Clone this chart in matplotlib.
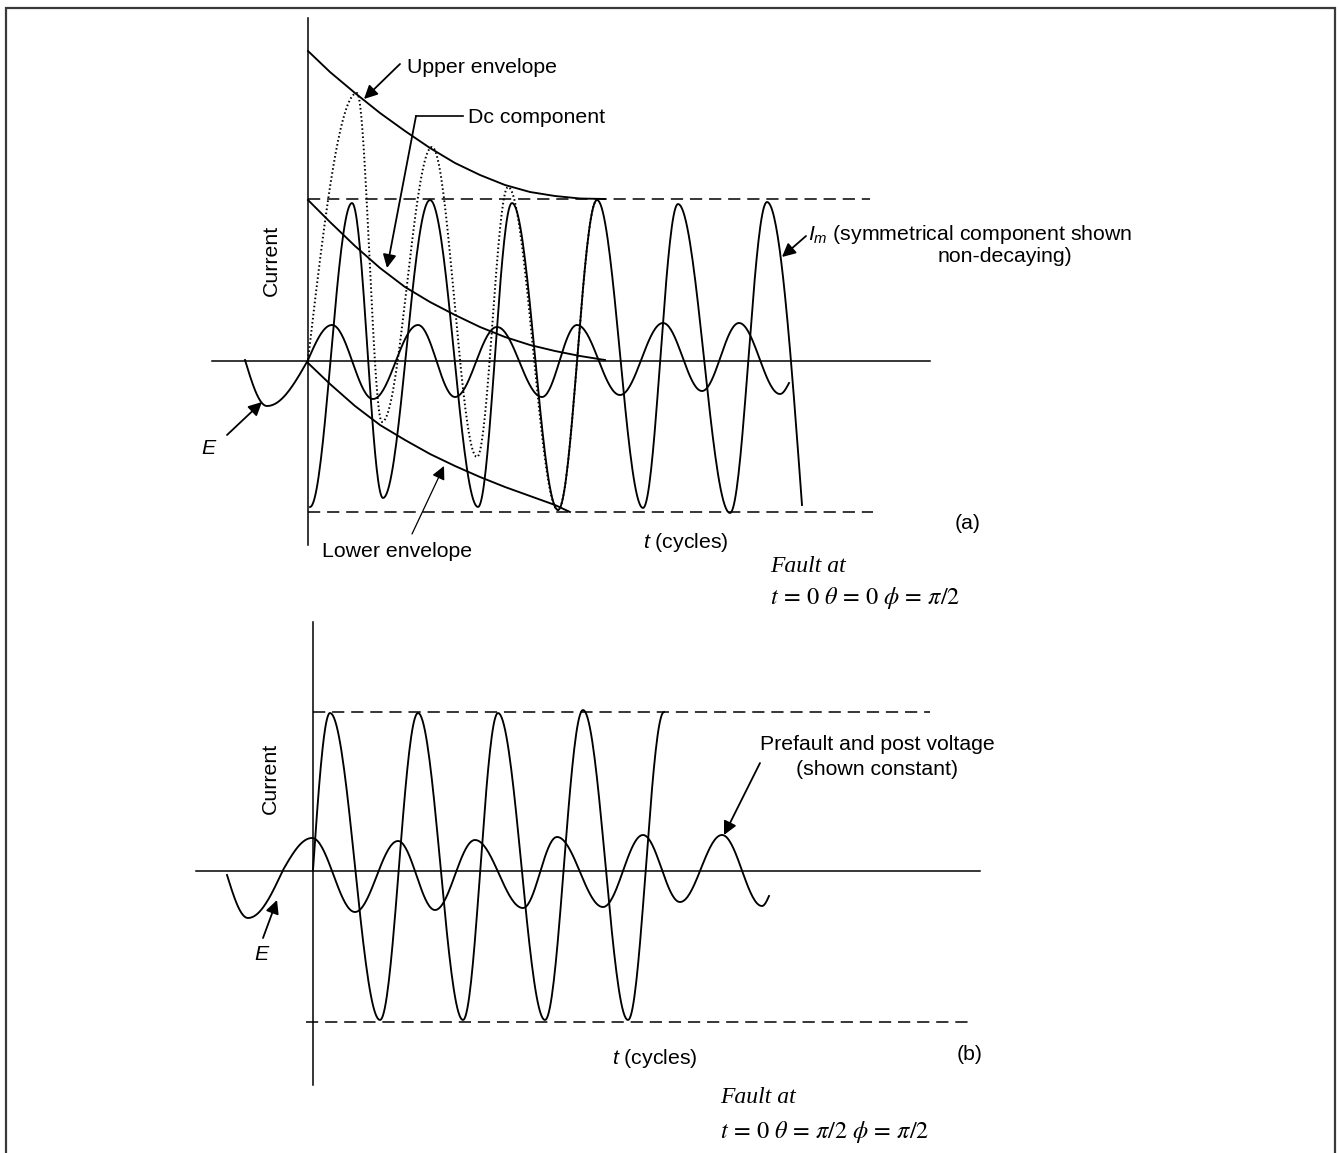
import numpy as np
import matplotlib
matplotlib.use("Agg")
import matplotlib.pyplot as plt

plt.rcParams["font.family"] = ["Liberation Sans", "DejaVu Sans"]
plt.rcParams["mathtext.fontset"] = "custom"
plt.rcParams["mathtext.it"] = "Liberation Sans:italic"
plt.rcParams["mathtext.rm"] = "Liberation Sans"

# ---------------- panel (a): fault at theta = 0 ----------------
# wave extrema (x, y) on the drawing sheet; kind 'p' = crest/trough, 'z' = steep point
sym_a_x = [310, 352, 383, 430, 478, 512, 558, 597, 643, 678, 730, 767, 802]
sym_a_y = [507, 203, 498, 200, 507, 203, 510, 200, 508, 204, 513, 202, 505]
sym_a_k = "ppppppppppppz"

asym_a_x = [308, 357, 382, 432, 477, 508, 558, 597]
asym_a_y = [360, 93, 422, 147, 457, 187, 510, 200]
asym_a_k = "zppppppp"

volt_a_x = [245, 267, 308, 332, 373, 418, 455, 497, 542, 577, 620, 663, 702, 739, 780, 789]
volt_a_y = [360, 406, 360, 325, 399, 325, 397, 327, 397, 325, 395, 323, 391, 323, 394, 383]
volt_a_k = "zpzppppppppppppz"

upper_env_x = [308, 330, 355, 380, 405, 430, 455, 480, 505, 530, 555, 580, 605]
upper_env_y = [51, 72, 93, 113, 131, 148, 163, 175, 185, 192, 196, 198.5, 199]

dc_x = [308, 330, 355, 380, 405, 430, 455, 480, 505, 530, 555, 580, 605]
dc_y = [200, 222, 246, 268, 287, 302, 315, 327, 337, 345, 351, 356, 360]

lower_env_x = [308, 330, 355, 380, 405, 430, 455, 480, 505, 530, 555, 570]
lower_env_y = [363, 384, 406, 425, 440, 454, 466, 477, 487, 496, 505, 512]

# ---------------- panel (b): fault at theta = pi/2 ----------------
sym_b_x = [313, 330, 380, 418, 463, 498, 545, 583, 628, 664]
sym_b_y = [870, 713, 1020, 713, 1020, 713, 1020, 710, 1020, 712]
sym_b_k = "zppppppppp"

volt_b_x = [227, 248, 283, 312, 355, 398, 435, 475, 523, 557, 603, 643, 680, 722, 762, 769]
volt_b_y = [875, 918, 870, 838, 912, 841, 910, 840, 908, 837, 907, 835, 902, 835, 906, 896]
volt_b_k = "zpzppppppppppppz"


def wave(xs, ys, kinds, n=40):
    """Join extrema with sinusoidal arcs."""
    px, py = [], []
    for i in range(len(xs) - 1):
        s = np.linspace(0, 1, n)
        k0, k1 = kinds[i], kinds[i + 1]
        if k0 == "p" and k1 == "p":
            f = (1 - np.cos(np.pi * s)) / 2
        elif k0 == "z" and k1 == "p":
            f = np.sin(np.pi / 2 * s)
        elif k0 == "p" and k1 == "z":
            f = 1 - np.cos(np.pi / 2 * s)
        else:
            f = s
        px.append(xs[i] + (xs[i + 1] - xs[i]) * s)
        py.append(ys[i] + (ys[i + 1] - ys[i]) * f)
    return np.concatenate(px), np.concatenate(py)


fig = plt.figure(figsize=(13.4, 11.53), dpi=100)
ax = fig.add_axes([0, 0, 1, 1])
ax.set_xlim(0, 1340)
ax.set_ylim(1153, 0)
ax.axis("off")

K = "black"
LW = 1.35
AX_LW = 1.1
DASH = dict(color=K, lw=1.1, dashes=(8, 4.5))

# frame
ax.plot([6, 6, 1335, 1335], [1153, 8, 8, 1153], color="#3a3a3a", lw=1.6,
        solid_joinstyle="miter")

# ---- panel (a) ----
ax.plot([308, 308], [18, 545], color=K, lw=AX_LW)
ax.plot([212, 930], [361, 361], color=K, lw=AX_LW)
ax.plot([308, 870], [199, 199], **DASH)
ax.plot([308, 873], [512, 512], **DASH)

ax.plot(*wave(sym_a_x, sym_a_y, sym_a_k), color=K, lw=LW)
ax.plot(*wave(asym_a_x, asym_a_y, asym_a_k), color=K, lw=1.4,
        linestyle=(0, (0.8, 1.3)))
ax.plot(*wave(volt_a_x, volt_a_y, volt_a_k), color=K, lw=LW)
ax.plot(upper_env_x, upper_env_y, color=K, lw=LW)
ax.plot(dc_x, dc_y, color=K, lw=LW)
ax.plot(lower_env_x, lower_env_y, color=K, lw=LW)

# ---- panel (b) ----
ax.plot([313, 313], [622, 1085], color=K, lw=AX_LW)
ax.plot([196, 980], [871, 871], color=K, lw=AX_LW)
ax.plot([313, 930], [712, 712], **DASH)
ax.plot([306, 973], [1022, 1022], **DASH)

ax.plot(*wave(sym_b_x, sym_b_y, sym_b_k), color=K, lw=LW)
ax.plot(*wave(volt_b_x, volt_b_y, volt_b_k), color=K, lw=LW)

# ---- annotations ----
ARW = dict(arrowstyle="-|>", color=K, lw=1.3, mutation_scale=20,
           shrinkA=0, shrinkB=0)
ARW_THIN = dict(ARW, lw=0.9)


def arrow(tail, head, props=ARW):
    ax.annotate("", xy=head, xytext=tail, arrowprops=props)


FS = 15.3
sans = dict(fontsize=FS, color=K)

ax.text(407, 73, "Upper envelope", ha="left", va="baseline", **sans)
arrow((400, 64), (364, 99))

ax.text(468, 123, "Dc component", ha="left", va="baseline", **sans)
ax.plot([416, 463], [116, 116], color=K, lw=1.2)
arrow((416, 116), (387, 268))

ax.text(808, 240, r"$I_m$ (symmetrical component shown", ha="left",
        va="baseline", **sans)
ax.text(1005, 262, "non-decaying)", ha="center", va="baseline", **sans)
arrow((806, 236), (782, 257))

ax.text(271, 260, "Current", rotation=90, ha="center", va="center", **sans)
ax.text(208, 454, "E", style="italic", ha="center", va="baseline", **sans)
arrow((227, 435), (262, 402))

ax.text(322, 557, "Lower envelope", ha="left", va="baseline", **sans)
arrow((412, 534), (444, 466), ARW_THIN)

ax.text(643, 548, r"$t$ (cycles)", ha="left", va="baseline", **sans)
ax.text(968, 529, "(a)", ha="center", va="baseline", **sans)

ax.text(770, 572, "Fault at", family="Liberation Serif", style="italic",
        fontsize=17, ha="left", va="baseline", color=K)
ax.text(770, 604, r"$t\,=\,0\ \theta\,=\,0\ \phi\,=\,\pi/2$",
        math_fontfamily="stix", fontsize=17.5, ha="left", va="baseline", color=K)

# panel (b) labels
ax.text(270, 778, "Current", rotation=90, ha="center", va="center", **sans)
ax.text(261, 960, "E", style="italic", ha="center", va="baseline", **sans)
arrow((263, 938), (277, 900))

ax.text(877, 750, "Prefault and post voltage", ha="center", va="baseline", **sans)
ax.text(877, 775, "(shown constant)", ha="center", va="baseline", **sans)
arrow((760, 763), (724, 835))

ax.text(612, 1064, r"$t$ (cycles)", ha="left", va="baseline", **sans)
ax.text(970, 1060, "(b)", ha="center", va="baseline", **sans)

ax.text(720, 1103, "Fault at", family="Liberation Serif", style="italic",
        fontsize=17, ha="left", va="baseline", color=K)
ax.text(720, 1138, r"$t\,=\,0\ \theta\,=\,\pi/2\ \phi\,=\,\pi/2$",
        math_fontfamily="stix", fontsize=17.5, ha="left", va="baseline", color=K)

fig.savefig("out.png", dpi=100)
